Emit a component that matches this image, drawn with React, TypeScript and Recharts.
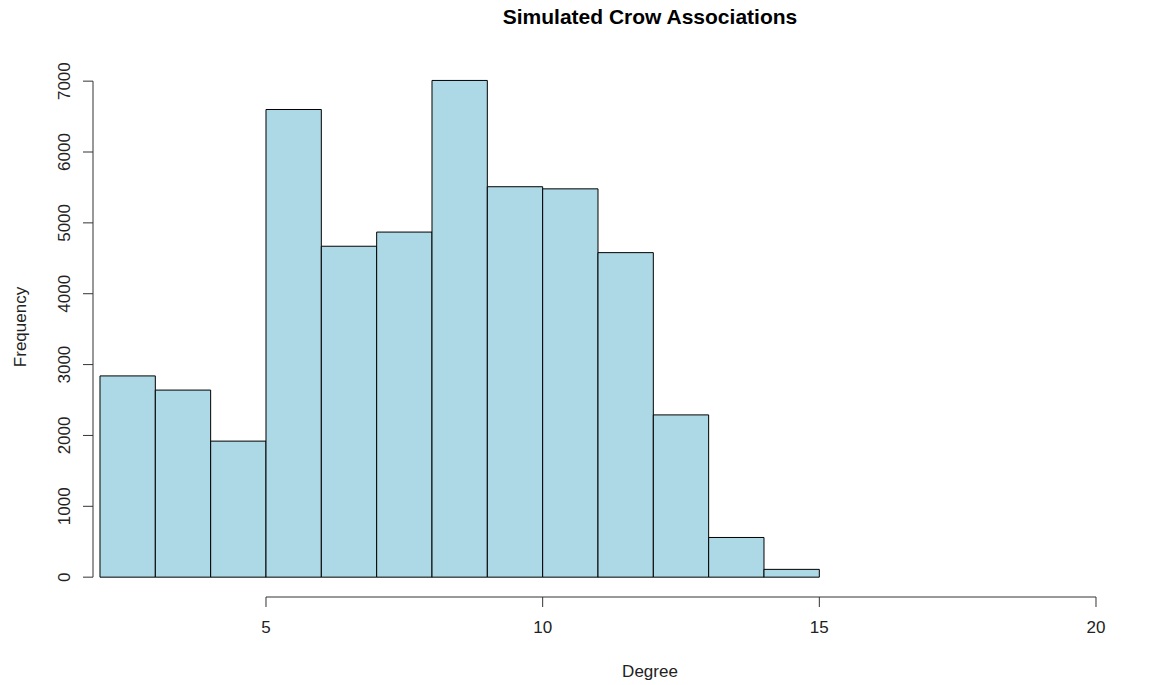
import React from 'react';
import { ComposedChart, Bar, XAxis, YAxis, ReferenceLine } from 'recharts';

// histogram bins (left edge of each unit-wide bin) and their counts
const binStarts = [2, 3, 4, 5, 6, 7, 8, 9, 10, 11, 12, 13, 14];
const counts = [2840, 2640, 1920, 6600, 4670, 4870, 7010, 5510, 5480, 4580, 2290, 560, 110];
const xTicks = [5, 10, 15, 20];
const yTicks = [0, 1000, 2000, 3000, 4000, 5000, 6000, 7000];

const data = binStarts.map((start, i) => ({ mid: start + 0.5, count: counts[i] }));

const WIDTH = 1161;
const HEIGHT = 685;
const FONT = '"Liberation Sans", Arial, sans-serif';

// R-style plot region: axis extends 4% beyond the data
const X_DOMAIN: [number, number] = [1.8735, 20.723];
const Y_DOMAIN: [number, number] = [-280, 7290];
const PLOT_LEFT = 93;
const PLOT_RIGHT = 1136;
const UNIT_PX = (PLOT_RIGHT - PLOT_LEFT) / (X_DOMAIN[1] - X_DOMAIN[0]);

const YTick = (props: any) => {
  const { x, y, payload } = props;
  return (
    <text
      x={x}
      y={y}
      transform={`rotate(-90 ${x} ${y})`}
      textAnchor="middle"
      fontSize={17}
      fill="#222"
    >
      {payload.value}
    </text>
  );
};

export default function App() {
  return (
    <div style={{ position: 'absolute', left: 0, top: 0, width: WIDTH, height: HEIGHT, fontFamily: FONT, background: '#fff' }}>
      <div
        style={{
          position: 'absolute',
          left: 0,
          width: 1300,
          top: 5,
          textAlign: 'center',
          fontWeight: 'bold',
          fontSize: 21,
          color: '#000',
        }}
      >
        Simulated Crow Associations
      </div>
      <ComposedChart
        width={WIDTH}
        height={HEIGHT}
        data={data}
        barCategoryGap={0}
        barGap={0}
        margin={{ top: 60.6, right: WIDTH - PLOT_RIGHT, bottom: 28, left: 0 }}
      >
        <XAxis
          dataKey="mid"
          type="number"
          domain={X_DOMAIN}
          allowDataOverflow
          ticks={xTicks}
          axisLine={false}
          tickLine={{ stroke: '#333' }}
          tickSize={10}
          tickMargin={14}
          tick={{ fontSize: 17, fill: '#222' }}
          height={60}
          label={{
            content: () => (
              <text x={650} y={677} textAnchor="middle" fontSize={17} fill="#222">
                Degree
              </text>
            ),
          }}
        />
        <YAxis
          type="number"
          domain={Y_DOMAIN}
          allowDataOverflow
          ticks={yTicks}
          axisLine={false}
          tickLine={{ stroke: '#333' }}
          tickSize={10}
          tickMargin={13}
          tick={<YTick />}
          width={PLOT_LEFT}
          label={{
            content: () => (
              <text
                x={26}
                y={327}
                transform="rotate(-90 26 327)"
                textAnchor="middle"
                fontSize={17}
                fill="#222"
              >
                Frequency
              </text>
            ),
          }}
        />
        {/* axis lines only span the tick range, like base R */}
        <ReferenceLine
          segment={[{ x: xTicks[0], y: Y_DOMAIN[0] }, { x: xTicks[xTicks.length - 1], y: Y_DOMAIN[0] }]}
          stroke="#333"
          ifOverflow="visible"
        />
        <ReferenceLine
          segment={[{ x: X_DOMAIN[0], y: yTicks[0] }, { x: X_DOMAIN[0], y: yTicks[yTicks.length - 1] }]}
          stroke="#333"
          ifOverflow="visible"
        />
        <Bar
          dataKey="count"
          fill="#ADD8E6"
          stroke="#000"
          strokeWidth={1}
          barSize={UNIT_PX - 0.01}
          isAnimationActive={false}
        />
      </ComposedChart>
    </div>
  );
}
